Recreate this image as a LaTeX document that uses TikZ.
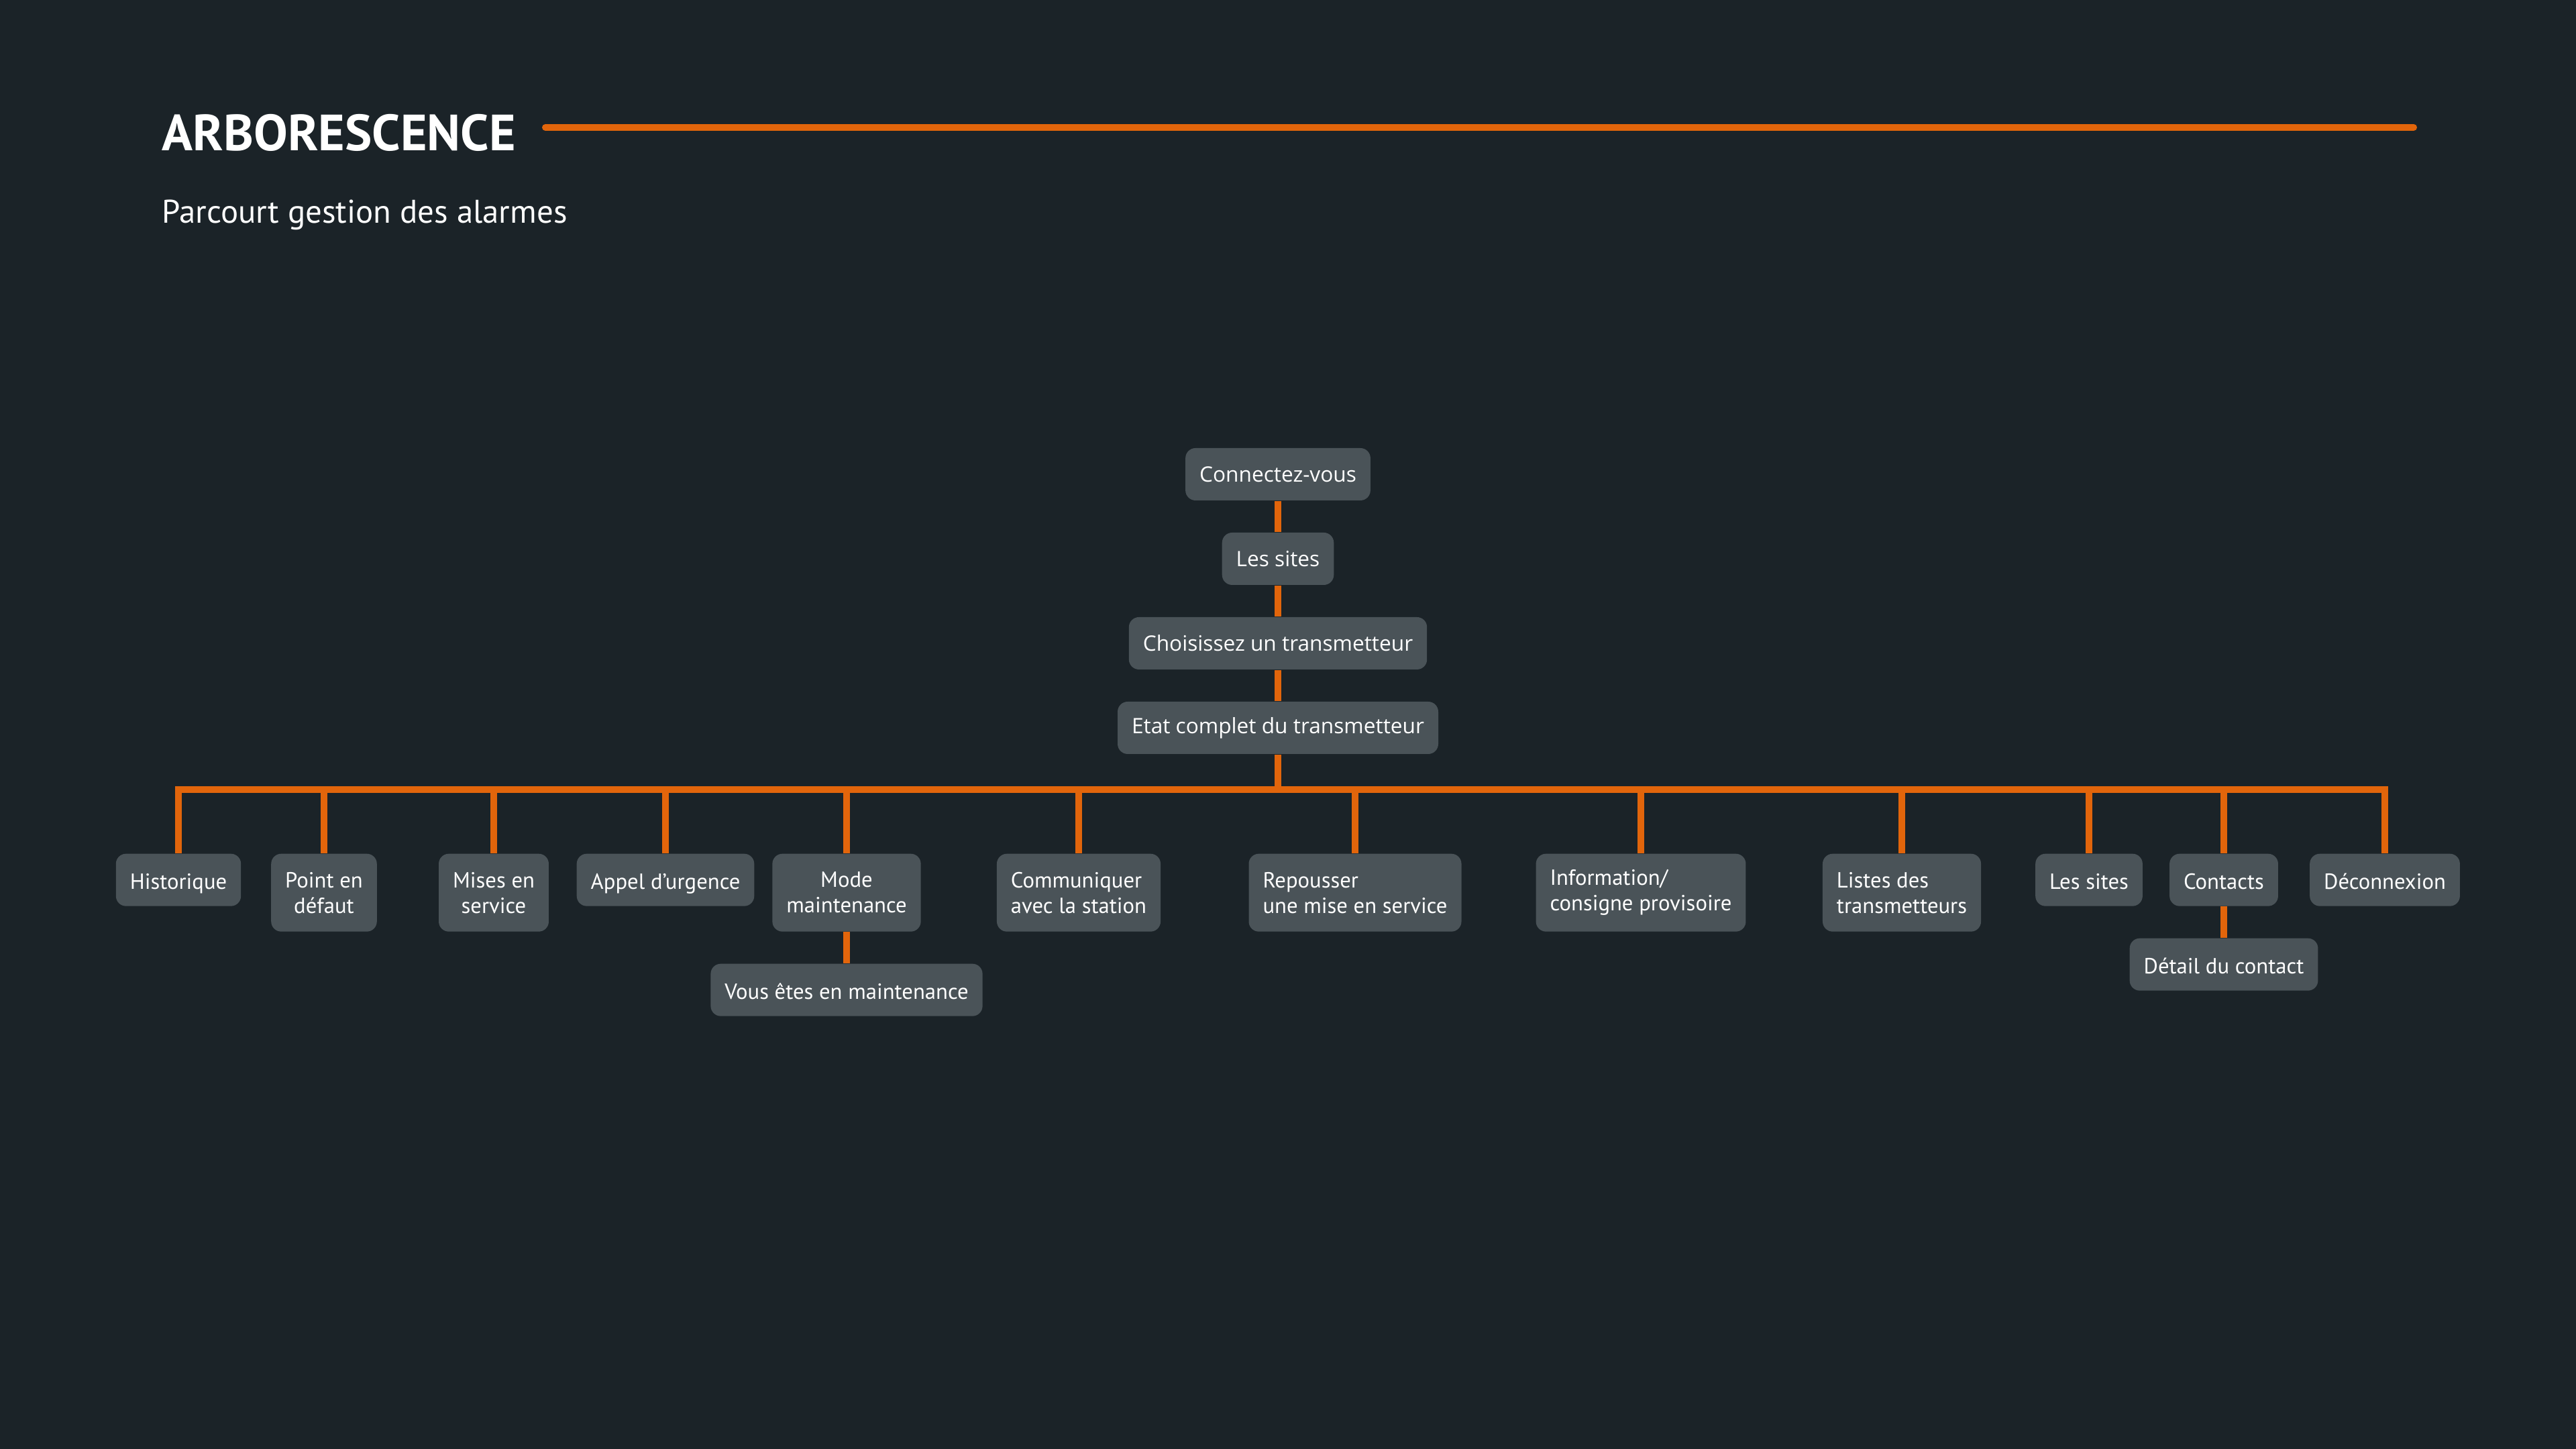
\documentclass[tikz,border=0pt]{standalone}
\usepackage{fontspec}
\setmainfont{PT Sans}
\newfontfamily\chainfont{Open Sans}

\definecolor{bgdark}{HTML}{1B2328}
\definecolor{boxgrey}{HTML}{4A5358}
\definecolor{linkorange}{HTML}{E2650B}

\tikzset{
    item/.style={fill=boxgrey, text=white, rounded corners=0.15cm,
        inner xsep=0.21cm, inner ysep=0.08cm, minimum height=0.78cm,
        font=\fontsize{9.3}{10.8}\selectfont},
    single/.style={item, text height=1.9ex, text depth=0.35ex},
    chainitem/.style={item, font=\chainfont\fontsize{9}{11}\selectfont},
    twoline/.style={item, minimum height=1.16cm},
    link/.style={draw=linkorange, line width=0.1cm},
}

\begin{document}
\begin{tikzpicture}
    % Background fixes the page size
    \fill[bgdark] (0,0) rectangle (38.4,21.6);

    % Title and subtitle
    \node (title) at (2.41,19.35) [anchor=base west, inner sep=0, text=white,
        font=\bfseries\fontsize{21.6}{24}\selectfont] {ARBORESCENCE};
    \draw[linkorange, line width=0.1cm, line cap=round] (8.13,19.70) -- (35.98,19.70);
    \node (subtitle) at (2.41,18.27) [anchor=base west, inner sep=0, text=white,
        font=\fontsize{13.9}{16}\selectfont] {Parcourt gestion des alarmes};

    % Main path
    \node[chainitem] (conn) at (19.05,14.53) {Connectez-vous};
    \node[chainitem] (sites) at (19.05,13.27) {Les sites};
    \node[chainitem] (choix) at (19.05,12.01) {Choisissez un transmetteur};
    \node[chainitem] (etat) at (19.05,10.75) {Etat complet du transmetteur};
    \coordinate (bus) at (19.05,9.83);

    \draw[link] (conn) -- (sites);
    \draw[link] (sites) -- (choix);
    \draw[link] (choix) -- (etat);
    \draw[link] (etat) -- (bus);

    % Pages reached from the transmitter
    \node[single, anchor=north] (hist) at (2.66,8.88) {Historique};
    \node[twoline, anchor=north, align=center] (point) at (4.83,8.88) {Point en\\défaut};
    \node[twoline, anchor=north, align=center] (mises) at (7.36,8.88) {Mises en\\service};
    \node[single, anchor=north] (appel) at (9.92,8.88) {Appel d’urgence};
    \node[twoline, anchor=north, align=center] (mode) at (12.62,8.88) {Mode\\maintenance};
    \node[twoline, anchor=north, align=left] (comm) at (16.08,8.88) {Communiquer\\avec la station};
    \node[twoline, anchor=north, align=left] (repous) at (20.20,8.88) {Repousser\\une mise en service};
    \node[twoline, anchor=north, align=left] (info) at (24.46,8.88) {Information/\\consigne provisoire};
    \node[twoline, anchor=north, align=left] (listes) at (28.35,8.88) {Listes des\\transmetteurs};
    \node[single, anchor=north] (lessites) at (31.14,8.88) {Les sites};
    \node[single, anchor=north] (contacts) at (33.15,8.88) {Contacts};
    \node[single, anchor=north] (deconn) at (35.55,8.88) {Déconnexion};

    % Second level
    \node[single, anchor=north] (vous) at (12.62,7.24) {Vous êtes en maintenance};
    \node[single, anchor=north] (detail) at (33.15,7.62) {Détail du contact};

    % Horizontal bus with its drops
    \draw[link] (hist.north) -- (hist.north |- bus) -- (deconn.north |- bus) -- (deconn.north);
    \foreach \n in {point,mises,appel,mode,comm,repous,info,listes,lessites,contacts}
        \draw[link] (\n.north) -- (\n.north |- bus);

    \draw[link] (mode) -- (vous);
    \draw[link] (contacts) -- (detail);
\end{tikzpicture}
\end{document}
